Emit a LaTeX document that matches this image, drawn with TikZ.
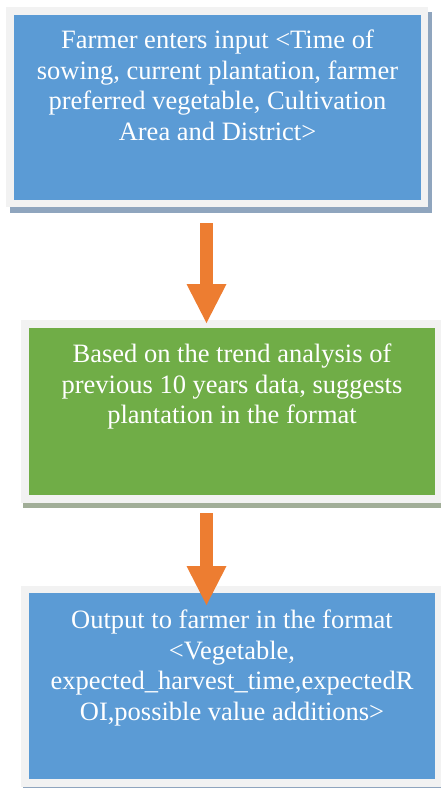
\documentclass[tikz,border=0pt]{standalone}
\usepackage{fontspec}
\setmainfont{Liberation Serif}
\usetikzlibrary{arrows.meta,positioning,calc}
\definecolor{boxblue}{HTML}{5B9BD5}
\definecolor{boxgreen}{HTML}{70AD47}
\definecolor{framegrey}{HTML}{F2F2F2}
\definecolor{shblue}{HTML}{8FA5BE}
\definecolor{shgreen}{HTML}{A1AE98}
\definecolor{arrorange}{HTML}{ED7D31}
\tikzset{
  boxtext/.style={text=white, align=center, inner sep=0pt, anchor=north,
    font=\fontsize{26.5}{30.5}\selectfont},
  flowarrow/.style={draw=arrorange, line width=13pt,
    -{Triangle[width=40pt,length=39pt,line width=0pt]}},
}
\begin{document}
\begin{tikzpicture}[x=1pt,y=-1pt]
\useasboundingbox (0,0) rectangle (441,788);
\fill[white] (0,0) rectangle (441,788);
% box 1
\fill[shblue] (10,12) rectangle (432,213);
\fill[framegrey] (6,7) rectangle (428,207);
\fill[boxblue] (14,15) rectangle (421,200);
\node[boxtext] (t1) at (217.5,30) {Farmer enters input <Time of\\sowing, current plantation, farmer\\preferred vegetable, Cultivation\\Area and District>};
\coordinate (b1) at (206.5,207);
% box 2
\fill[shgreen] (23,325) rectangle (441,508);
\fill[framegrey] (21,320) rectangle (441,503);
\fill[boxgreen] (29,328) rectangle (435,495);
\node[boxtext] (t2) at (232,344) {Based on the trend analysis of\\previous 10 years data, suggests\\plantation in the format};
\coordinate (b2top) at (206.5,320);
\coordinate (b2) at (206.5,503);
% box 3
\fill[shblue] (23,590) rectangle (441,788);
\fill[framegrey] (21,586) rectangle (441,787);
\fill[boxblue] (29,593) rectangle (435,779);
\node[boxtext] (t3) at (232,610) {Output to farmer in the format\\<Vegetable,\\expected\_harvest\_time,expectedR\\OI,possible value additions>};
\coordinate (b3top) at (206.5,586);
% arrows
\draw[flowarrow] ($(b1)+(0,16)$) -- ($(b2top)+(0,3)$);
\draw[flowarrow] ($(b2)+(0,10)$) -- ($(b3top)+(0,19)$);
\end{tikzpicture}
\end{document}
